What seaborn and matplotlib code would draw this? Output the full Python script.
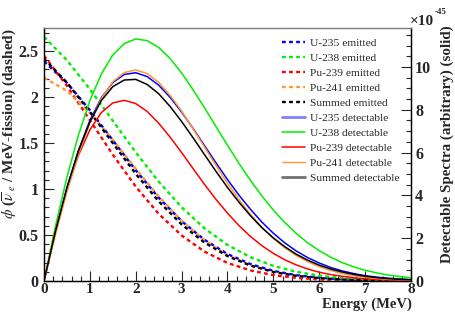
import numpy as np
import pandas as pd
import matplotlib
matplotlib.use('Agg')
import matplotlib.pyplot as plt
from matplotlib.lines import Line2D
from matplotlib.ticker import MultipleLocator
import seaborn as sns

# --- Data (energy in MeV) ---
energy_em = [0.0, 0.5, 1.0, 1.5, 2.0, 2.5, 3.0, 3.5, 4.0, 4.5, 5.0, 5.5, 6.0, 6.5, 7.0, 7.5, 8.0]
u235_em = [2.387, 2.154, 1.857, 1.53, 1.204, 0.906, 0.651, 0.447, 0.293, 0.184, 0.11, 0.063, 0.035, 0.018, 0.009, 0.004, 0.002]
u238_em = [2.654, 2.399, 2.085, 1.742, 1.399, 1.08, 0.802, 0.572, 0.392, 0.259, 0.164, 0.1, 0.058, 0.033, 0.018, 0.009, 0.005]
pu239_em = [2.45, 2.121, 1.749, 1.373, 1.026, 0.73, 0.495, 0.319, 0.196, 0.115, 0.064, 0.034, 0.017, 0.008, 0.004, 0.002, 0.001]
pu241_em = [2.21, 2.067, 1.83, 1.536, 1.22, 0.918, 0.655, 0.442, 0.283, 0.171, 0.098, 0.053, 0.028, 0.013, 0.006, 0.003, 0.001]
sum_em = [2.416, 2.157, 1.839, 1.498, 1.165, 0.866, 0.615, 0.417, 0.271, 0.168, 0.099, 0.056, 0.031, 0.016, 0.008, 0.004, 0.002]

energy_det = [0.0, 0.25, 0.5, 0.75, 1.0, 1.25, 1.5, 1.75, 2.0, 2.25, 2.5, 2.75, 3.0, 3.25, 3.5, 3.75, 4.0,
              4.25, 4.5, 4.75, 5.0, 5.25, 5.5, 5.75, 6.0, 6.25, 6.5, 6.75, 7.0, 7.25, 7.5, 7.75, 8.0]
u235_det = [0.0, 2.3, 4.35, 6.09, 7.5, 8.56, 9.27, 9.65, 9.73, 9.55, 9.15, 8.58, 7.89, 7.13, 6.32, 5.52, 4.74,
            4.01, 3.35, 2.75, 2.23, 1.78, 1.4, 1.09, 0.84, 0.63, 0.47, 0.35, 0.25, 0.18, 0.13, 0.09, 0.06]
u238_det = [0.0, 2.56, 4.85, 6.81, 8.43, 9.67, 10.56, 11.09, 11.31, 11.23, 10.91, 10.39, 9.72, 8.93, 8.09, 7.21, 6.34,
            5.49, 4.7, 3.97, 3.31, 2.73, 2.22, 1.78, 1.42, 1.11, 0.86, 0.66, 0.5, 0.38, 0.28, 0.21, 0.15]
pu239_det = [0.0, 2.32, 4.28, 5.87, 7.06, 7.87, 8.32, 8.44, 8.29, 7.92, 7.37, 6.72, 6.0, 5.25, 4.51, 3.81, 3.17,
             2.59, 2.08, 1.65, 1.29, 0.99, 0.75, 0.56, 0.41, 0.3, 0.22, 0.15, 0.11, 0.07, 0.05, 0.03, 0.02]
pu241_det = [0.0, 2.17, 4.17, 5.93, 7.39, 8.52, 9.31, 9.74, 9.86, 9.69, 9.28, 8.67, 7.94, 7.11, 6.25, 5.39, 4.57,
             3.81, 3.11, 2.51, 1.99, 1.55, 1.19, 0.9, 0.67, 0.49, 0.35, 0.25, 0.18, 0.12, 0.08, 0.06, 0.04]
sum_det = [0.0, 2.32, 4.36, 6.07, 7.43, 8.43, 9.08, 9.39, 9.42, 9.18, 8.75, 8.15, 7.45, 6.69, 5.9, 5.12, 4.37,
           3.68, 3.05, 2.49, 2.01, 1.6, 1.25, 0.97, 0.74, 0.56, 0.42, 0.31, 0.22, 0.16, 0.11, 0.08, 0.06]

names = ['U-235', 'U-238', 'Pu-239', 'Pu-241', 'Summed']
colors = ['#0000ff', '#00ee00', '#ff0000', '#ff9933', '#000000']
emitted = [u235_em, u238_em, pu239_em, pu241_em, sum_em]
detectable = [u235_det, u238_det, pu239_det, pu241_det, sum_det]

# --- Style ---
sns.set_style('ticks')
plt.rcParams['font.family'] = ['Liberation Serif', 'DejaVu Serif']
plt.rcParams['mathtext.fontset'] = 'stix'

fig = plt.figure(figsize=(4.56, 3.12), dpi=100)
ax = fig.add_axes([44/456, 1-281/312, (411-44)/456, (281-28)/312])
ax2 = ax.twinx()

dash = (0, (1.6, 1.4))
for name, c, em in zip(names, colors, emitted):
    sns.lineplot(x=energy_em, y=em, ax=ax, color=c, lw=1.7, linestyle=dash)
for name, c, det in zip(names, colors, detectable):
    sns.lineplot(x=energy_det, y=det, ax=ax2, color=c, lw=1.1)

ax.set_xlim(0, 8)
ax.set_ylim(0, 2.75)
ax2.set_ylim(0, 11.82)
ax.set_xlabel('')
ax.set_ylabel('')
ax2.set_ylabel('')

ax.xaxis.set_minor_locator(MultipleLocator(0.2))
ax.yaxis.set_minor_locator(MultipleLocator(0.1))
ax2.yaxis.set_minor_locator(MultipleLocator(0.5))

tick_font = dict(family='Liberation Serif', weight='bold', size=11.5)
ax.tick_params(axis='both', which='major', direction='in', length=7, width=0.8)
ax.tick_params(axis='x', which='major', pad=1.5)
ax.tick_params(axis='y', which='major', pad=4)
ax.tick_params(axis='both', which='minor', direction='in', length=3.5, width=0.8)
ax.tick_params(top=False, right=False, which='both')
ax2.tick_params(axis='y', which='major', direction='in', length=7, width=0.8, pad=3)
ax2.tick_params(axis='y', which='minor', direction='in', length=3.5, width=0.8)
ax.set_yticks([0, 0.5, 1, 1.5, 2, 2.5])
ax.set_yticklabels(['0', '0.5', '1', '1.5', '2', '2.5'], fontdict=tick_font)
ax.set_xticks(range(9))
ax.set_xticklabels([str(i) for i in range(9)], fontdict=dict(tick_font, size=11))
ax2.set_yticks([0, 2, 4, 6, 8, 10])
ax2.set_yticklabels(['0', '2', '4', '6', '8', '10'], fontdict=tick_font)

for a in (ax, ax2):
    for s in a.spines.values():
        s.set_linewidth(0.9)
        s.set_color('black')
    a.spines['top'].set_color('#808080')

# --- Titles ---
fig.text(412/456, 1-297.5/312, 'Energy (MeV)', ha='right', va='top',
         fontsize=10.5, fontweight='bold')
fig.text(10/456, 1-28/312, r'$\phi$ ($\overline{\nu}_{\ e}$ / MeV-fission) (dashed)',
         rotation=90, ha='center', va='top', fontsize=11, fontweight='bold')
fig.text(447/456, 1-25/312, 'Detectable Spectra (arbitrary) (solid)',
         rotation=90, ha='center', va='top', fontsize=10.8, fontweight='bold')
fig.text(410/456, 1-25/312, '\u00d710', ha='left', va='baseline',
         fontsize=11, fontweight='bold')
fig.text(435/456, 1-14/312, '-45', ha='left', va='baseline',
         fontsize=6.5, fontweight='bold')

# --- Legend ---
handles = [Line2D([], [], color=c, lw=1.7, linestyle=dash) for c in colors]
handles += [Line2D([], [], color='#8080ff', lw=2.0), Line2D([], [], color='#00ee00', lw=1.1),
            Line2D([], [], color='#ff0000', lw=1.1), Line2D([], [], color='#ff9933', lw=1.0),
            Line2D([], [], color='#707070', lw=2.0)]
labels = [n + ' emitted' for n in names] + [n + ' detectable' for n in names]
fig.legend(handles, labels, loc='upper left', bbox_to_anchor=(282/456, 1-38/312),
           frameon=False, fontsize=8.2, handlelength=2.0, handletextpad=0.5,
           labelspacing=0.44, borderpad=0, borderaxespad=0)

fig.savefig('out.png', dpi=100)
